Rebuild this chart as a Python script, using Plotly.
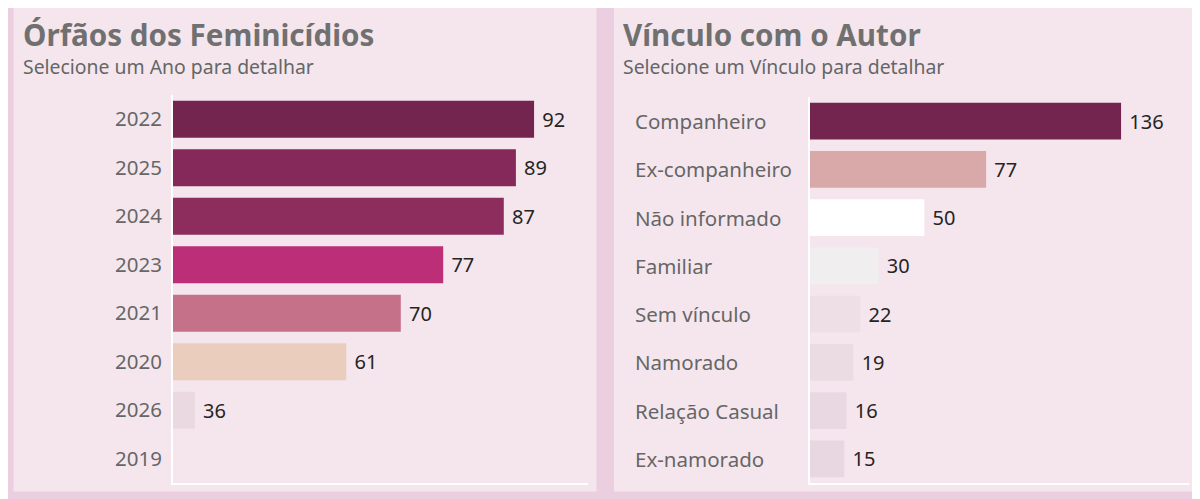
import plotly.graph_objects as go

# data
anos = ["2022", "2025", "2024", "2023", "2021", "2020", "2026", "2019"]
orfaos = [92, 89, 87, 77, 70, 61, 36, 0]
cores_anos = ["#74254F", "#84295A", "#8C2D5E", "#BC2E78", "#C6718A",
              "#EACDBC", "#EAD9E1", "#EAD9E1"]

vinculos = ["Companheiro", "Ex-companheiro", "Não informado", "Familiar",
            "Sem vínculo", "Namorado", "Relação Casual", "Ex-namorado"]
qtd_vinculo = [136, 77, 50, 30, 22, 19, 16, 15]
cores_vinculo = ["#74254F", "#D9A8A8", "#FFFFFF", "#F0EEEF",
                 "#EEDFE6", "#EBDCE4", "#E9D8E1", "#E8D7E0"]

W, H = 1200, 499
OFF = 8  # page margin around the plot div
FONT = "Noto Sans"
BG = "#EBCEDF"
PANEL = "#F5E6EE"


def px(x):
    return (x - OFF) / W


def py(y):
    return 1 - (y - OFF) / H


fig = go.Figure()

fig.add_trace(go.Bar(
    x=orfaos, y=anos, orientation="h",
    marker=dict(color=cores_anos, line=dict(width=0)),
    text=[" " + str(v) if v else "" for v in orfaos],
    textposition="outside", constraintext="none",
    textfont=dict(family=FONT, size=20, color="#252423"),
    xaxis="x", yaxis="y", hoverinfo="skip",
))

fig.add_trace(go.Bar(
    x=qtd_vinculo, y=vinculos, orientation="h",
    marker=dict(color=cores_vinculo, line=dict(width=0)),
    text=[" " + str(v) for v in qtd_vinculo],
    textposition="outside", constraintext="none",
    textfont=dict(family=FONT, size=20, color="#252423"),
    xaxis="x2", yaxis="y2", hoverinfo="skip",
))

fig.update_layout(
    width=W, height=H,
    margin=dict(l=0, r=0, t=0, b=0),
    paper_bgcolor=BG, plot_bgcolor="rgba(0,0,0,0)",
    showlegend=False, bargap=0.24,
    font=dict(family=FONT, color="#666666"),
    # o eixo do primeiro gráfico não começa em zero (auto do Power BI)
    xaxis=dict(domain=[px(173), px(588)], range=[32.4, 100.9],
               showticklabels=False, showgrid=False, zeroline=False,
               showline=True, linecolor="white", linewidth=2, ticks=""),
    yaxis=dict(domain=[py(483), py(95)], autorange="reversed",
               categoryorder="array", categoryarray=anos,
               showgrid=False, zeroline=False, ticks="",
               showline=True, linecolor="white", linewidth=2,
               ticklabelstandoff=5,
               tickfont=dict(family=FONT, size=20.5, color="#666666")),
    xaxis2=dict(domain=[px(810), px(1189)], range=[0, 165.7], anchor="y2",
                showticklabels=False, showgrid=False, zeroline=False,
                showline=True, linecolor="white", linewidth=2, ticks=""),
    yaxis2=dict(domain=[py(483), py(97)], anchor="x2", autorange="reversed",
                categoryorder="array", categoryarray=vinculos,
                showgrid=False, zeroline=False, ticks="", showticklabels=False,
                showline=True, linecolor="white", linewidth=2),
)

# painéis de fundo
for x0, x1 in [(13.5, 596.5), (614, 1196)]:
    fig.add_shape(type="rect", xref="paper", yref="paper", layer="below",
                  x0=px(x0), x1=px(x1), y0=py(491.5), y1=py(7.5),
                  fillcolor=PANEL, line=dict(width=0))

# rótulos do segundo eixo alinhados à esquerda
for v in vinculos:
    fig.add_annotation(text=v, xref="paper", yref="y2", x=px(633), y=v,
                       xanchor="left", yanchor="middle", showarrow=False,
                       font=dict(family=FONT, size=20.5, color="#666666"))

# títulos e subtítulos
for x0, titulo, sub in [(21, "Órfãos dos Feminicídios", "Selecione um Ano para detalhar"),
                        (621, "Vínculo com o Autor", "Selecione um Vínculo para detalhar")]:
    fig.add_annotation(text="<b>" + titulo + "</b>", xref="paper", yref="paper",
                       x=px(x0), y=py(35), xanchor="left", yanchor="middle",
                       showarrow=False,
                       font=dict(family=FONT, size=29.6, color="#707070"))
    fig.add_annotation(text=sub, xref="paper", yref="paper",
                       x=px(x0), y=py(66.5), xanchor="left", yanchor="middle",
                       showarrow=False,
                       font=dict(family=FONT, size=19.4, color="#666666"))

fig.write_html("out.html")
